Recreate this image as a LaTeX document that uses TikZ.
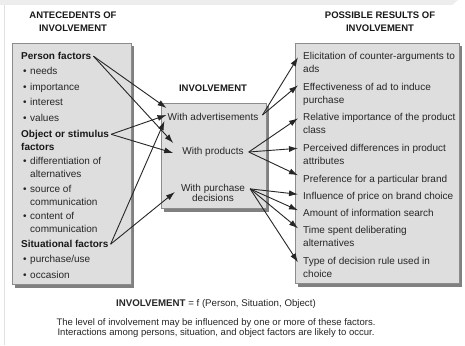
\documentclass[tikz,border=0pt]{standalone}
\usepackage{fontspec}
\setmainfont{Liberation Sans}
\usetikzlibrary{arrows.meta,calc}
\begin{document}
\begin{tikzpicture}[x=1pt,y=-1pt,
  txt/.style={font=\fontsize{10}{13}\selectfont, text=black!85, inner sep=0pt, anchor=north west, align=left},
  hd/.style={txt, font=\fontsize{10}{13}\selectfont\bfseries, text=black!90},
  bul/.style={txt},
  ttl/.style={font=\fontsize{9.5}{12.5}\selectfont\bfseries, text=black!90, inner sep=0pt, align=center},
  mid/.style={font=\fontsize{10}{10.5}\selectfont, text=black!85, inner sep=0pt, align=center},
  panel/.style={draw=black!45, fill=black!13, line width=0.8pt},
  shade/.style={fill=black!50},
  arr/.style={-{Latex[length=9pt,width=6pt]}, draw=black!85, line width=0.9pt}
]
\useasboundingbox (0,0) rectangle (465,345);
\fill[white] (0,0) rectangle (465,345);
% screenshot frame
\fill[black!7] (0,0) -- (458,0) -- (452,5) -- (0,5) -- cycle;
\draw[black!12, line width=1pt] (4,5) -- (4,345);

% panels
\fill[shade] (15,46) rectangle (134,288);
\draw[panel] (12,43) rectangle (131,284);
\fill[shade] (164,106) rectangle (269,212);
\draw[panel] (161,103) rectangle (266,208);
\fill[shade] (298,46) rectangle (462,287);
\draw[panel] (295,43) rectangle (459,283);

% titles
\node[ttl] (tl) at (73,21.5) {ANTECEDENTS OF\\INVOLVEMENT};
\node[ttl] (tr) at (380,21.5) {POSSIBLE RESULTS OF\\INVOLVEMENT};
\node[ttl] (tm) at (213,88) {INVOLVEMENT};

% left items
\newcommand{\bl}{\llap{\textbullet\hspace{3.5pt}}}
\node[hd] (pf) at (21,52.3) {Person factors};
\node[bul] (l1) at (30,67.3) {\bl needs};
\node[bul] (l2) at (30,83.3) {\bl importance};
\node[bul] (l3) at (30,98.3) {\bl interest};
\node[bul] (l4) at (30,114.3) {\bl values};
\node[hd] (os) at (21,130.3) {Object or stimulus\\factors};
\node[bul] (l5) at (30,157.3) {\bl differentiation of\\alternatives};
\node[bul] (l6) at (30,185.3) {\bl source of\\communication};
\node[bul] (l7) at (30,212.3) {\bl content of\\communication};
\node[hd] (sf) at (21,240.3) {Situational factors};
\node[bul] (l8) at (30,255.3) {\bl purchase/use};
\node[bul] (l9) at (30,271.3) {\bl occasion};

% middle items
\node[mid] (adv) at (213,117) {With advertisements};
\node[mid] (prod) at (213,152) {With products};
\node[mid] (pur) at (213,193) {With purchase\\decisions};

% right items
\node[txt] (r1) at (303,52.3) {Elicitation of counter-arguments to\\ads};
\node[txt] (r2) at (303,83.3) {Effectiveness of ad to induce\\purchase};
\node[txt] (r3) at (303,113.3) {Relative importance of the product\\class};
\node[txt] (r4) at (303,144.3) {Perceived differences in product\\attributes};
\node[txt] (r5) at (303,175.3) {Preference for a particular brand};
\node[txt] (r6) at (303,192.3) {Influence of price on brand choice};
\node[txt] (r7) at (303,209.3) {Amount of information search};
\node[txt] (r8) at (303,226.3) {Time spent deliberating\\alternatives};
\node[txt] (r9) at (303,257.3) {Type of decision rule used in\\choice};

% bottom text
\node[mid, font=\fontsize{9.7}{11}\selectfont] (eq) at (216,304) {\textbf{INVOLVEMENT} = f (Person, Situation, Object)};
\node[mid, font=\fontsize{9.5}{10.7}\selectfont] (note) at (216,328) {The level of involvement may be influenced by one or more of these factors.\\Interactions among persons, situation, and object factors are likely to occur.};

% left arrows
\coordinate (pfend) at ($(pf.east)+(2,0)$);
\coordinate (osend) at ($(os.north east)+(2,4)$);
\coordinate (sfend) at ($(sf.east)+(2,0)$);
\draw[arr] (pfend) -- ($(adv.west)+(-1,-9)$);
\draw[arr] (pfend) -- ($(prod.west)+(-9,-9)$);
\draw[arr] (osend) -- ($(adv.west)+(-1,-2)$);
\draw[arr] (osend) -- ($(prod.west)+(-9,1)$);
\draw[arr] (sfend) -- ($(adv.west)+(-3,4)$);
\draw[arr] (sfend) -- ($(pur.west)+(-6,-1)$);

% right arrows
\coordinate (advs) at ($(adv.east)+(4,-2)$);
\coordinate (prods) at ($(prod.east)+(5,0)$);
\coordinate (purs) at ($(pur.north east)+(5,5)$);
\draw[arr] (advs) -- ($(r1.north west)+(-5,5)$);
\draw[arr] (advs) -- ($(r2.north west)+(-5,2)$);
\draw[arr] (prods) -- ($(r3.north west)+(-5,5)$);
\draw[arr] (prods) -- ($(r4.north west)+(-5,4)$);
\draw[arr] (prods) -- ($(r5.north west)+(-5,0)$);
\draw[arr] (purs) -- ($(r6.north west)+(-5,2)$);
\draw[arr] (purs) -- ($(r7.north west)+(-5,1)$);
\draw[arr] (purs) -- ($(r8.north west)+(-5,2)$);
\draw[arr] (purs) -- ($(r9.north west)+(-5,5)$);
\end{tikzpicture}
\end{document}
